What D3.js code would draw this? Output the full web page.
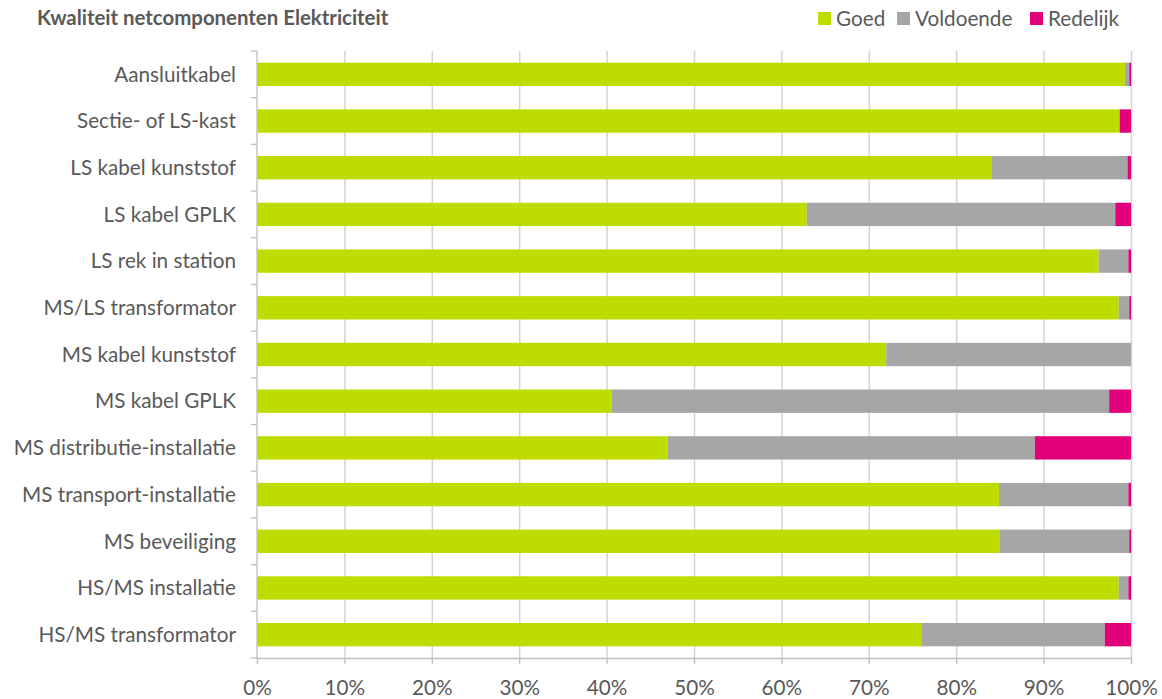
<!DOCTYPE html>
<html>
<head>
<meta charset="utf-8">
<script src="https://cdn.jsdelivr.net/npm/d3@7"></script>
<style>
  body { margin: 0; background: #ffffff; }
  text { font-family: Lato, "Open Sans", sans-serif; fill: #595959; }
</style>
</head>
<body>
<script>
// categories, top to bottom
var categories = [
  "Aansluitkabel",
  "Sectie- of LS-kast",
  "LS kabel kunststof",
  "LS kabel GPLK",
  "LS rek in station",
  "MS/LS transformator",
  "MS kabel kunststof",
  "MS kabel GPLK",
  "MS distributie-installatie",
  "MS transport-installatie",
  "MS beveiliging",
  "HS/MS installatie",
  "HS/MS transformator"
];

// shares in percent
var goed      = [99.3, 98.7, 84.1, 62.9, 96.3, 98.6, 72.0, 40.6, 47.0, 84.9, 85.0, 98.6, 76.0];
var voldoende = [ 0.5,  0.0, 15.5, 35.3,  3.4,  1.2, 28.0, 56.9, 42.0, 14.8, 14.8,  1.1, 21.0];
var redelijk  = [ 0.2,  1.3,  0.4,  1.8,  0.3,  0.2,  0.0,  2.5, 11.0,  0.3,  0.2,  0.3,  3.0];

var seriesNames = ["Goed", "Voldoende", "Redelijk"];
var seriesColors = ["#bedc00", "#a6a6a6", "#e2007a"];
var xTicks = [0, 10, 20, 30, 40, 50, 60, 70, 80, 90, 100];

var WIDTH = 1162, HEIGHT = 699;
var margin = {top: 51, right: 31, bottom: 41, left: 257};
var LABEL_SIZE = "20.7px";

var svg = d3.select("body").append("svg")
            .attr("width", WIDTH)
            .attr("height", HEIGHT);

var x = d3.scaleLinear()
          .domain([0, 100])
          .range([margin.left, WIDTH - margin.right]);

var y = d3.scaleBand()
          .domain(categories)
          .range([margin.top, HEIGHT - margin.bottom])
          .paddingInner(0.5)
          .paddingOuter(0.25);

// gridlines
svg.append("g")
   .selectAll("line")
   .data(xTicks.slice(1))
   .join("line")
   .attr("x1", d => x(d) + 0.5)
   .attr("x2", d => x(d) + 0.5)
   .attr("y1", margin.top)
   .attr("y2", HEIGHT - margin.bottom)
   .style("stroke", "#d4d4d4")
   .style("stroke-width", 1.5);

// stacked data
var table = categories.map(function(c, i)
{
  return {cat: c, Goed: goed[i], Voldoende: voldoende[i], Redelijk: redelijk[i]};
});
var stacked = d3.stack().keys(seriesNames)(table);

svg.append("g")
   .selectAll("g")
   .data(stacked)
   .join("g")
   .style("fill", (d, i) => seriesColors[i])
   .selectAll("rect")
   .data(d => d)
   .join("rect")
   .attr("x", d => x(d[0]))
   .attr("y", d => y(d.data.cat))
   .attr("width", d => Math.max(0, x(d[1]) - x(d[0])))
   .attr("height", y.bandwidth());

// x axis
var xAxis = svg.append("g")
               .attr("transform", "translate(0," + (HEIGHT - margin.bottom) + ")")
               .call(d3.axisBottom(x).tickValues(xTicks).tickFormat(d => d + "%").tickSizeOuter(0).tickSize(6).tickPadding(16));
xAxis.selectAll("path, line").style("stroke", "#bfbfbf").style("stroke-width", 1.3);
xAxis.selectAll("text").style("font-size", LABEL_SIZE).style("fill", "#595959");

// y axis: ticks on category boundaries
var step = y.step();
var boundaries = d3.range(categories.length + 1).map(i => margin.top + i * step);
var yAxis = svg.append("g");
yAxis.append("line")
     .attr("x1", margin.left).attr("x2", margin.left)
     .attr("y1", margin.top).attr("y2", HEIGHT - margin.bottom)
     .style("stroke", "#bfbfbf").style("stroke-width", 1.3);
yAxis.selectAll(".ytick")
     .data(boundaries)
     .join("line")
     .attr("class", "ytick")
     .attr("x1", margin.left - 6).attr("x2", margin.left)
     .attr("y1", d => d).attr("y2", d => d)
     .style("stroke", "#bfbfbf").style("stroke-width", 1.3);
yAxis.selectAll(".ylabel")
     .data(categories)
     .join("text")
     .attr("class", "ylabel")
     .attr("x", margin.left - 21)
     .attr("y", d => y(d) + y.bandwidth() / 2)
     .attr("dy", "0.35em")
     .attr("text-anchor", "end")
     .style("font-size", LABEL_SIZE)
     .text(d => d);

// title
svg.append("text")
   .attr("x", 37)
   .attr("y", 25)
   .style("font-size", "20.4px")
   .style("font-weight", "bold")
   .text("Kwaliteit netcomponenten Elektriciteit");

// legend
var legendX = [818, 897, 1030];
var legend = svg.append("g");
seriesNames.forEach(function(name, i)
{
  var g = legend.append("g").attr("transform", "translate(" + legendX[i] + ",0)");
  g.append("rect")
   .attr("x", 0).attr("y", 12)
   .attr("width", 13).attr("height", 13)
   .style("fill", seriesColors[i]);
  g.append("text")
   .attr("x", 18).attr("y", 18.5)
   .attr("dy", "0.35em")
   .style("font-size", LABEL_SIZE)
   .text(name);
});
</script>
</body>
</html>
